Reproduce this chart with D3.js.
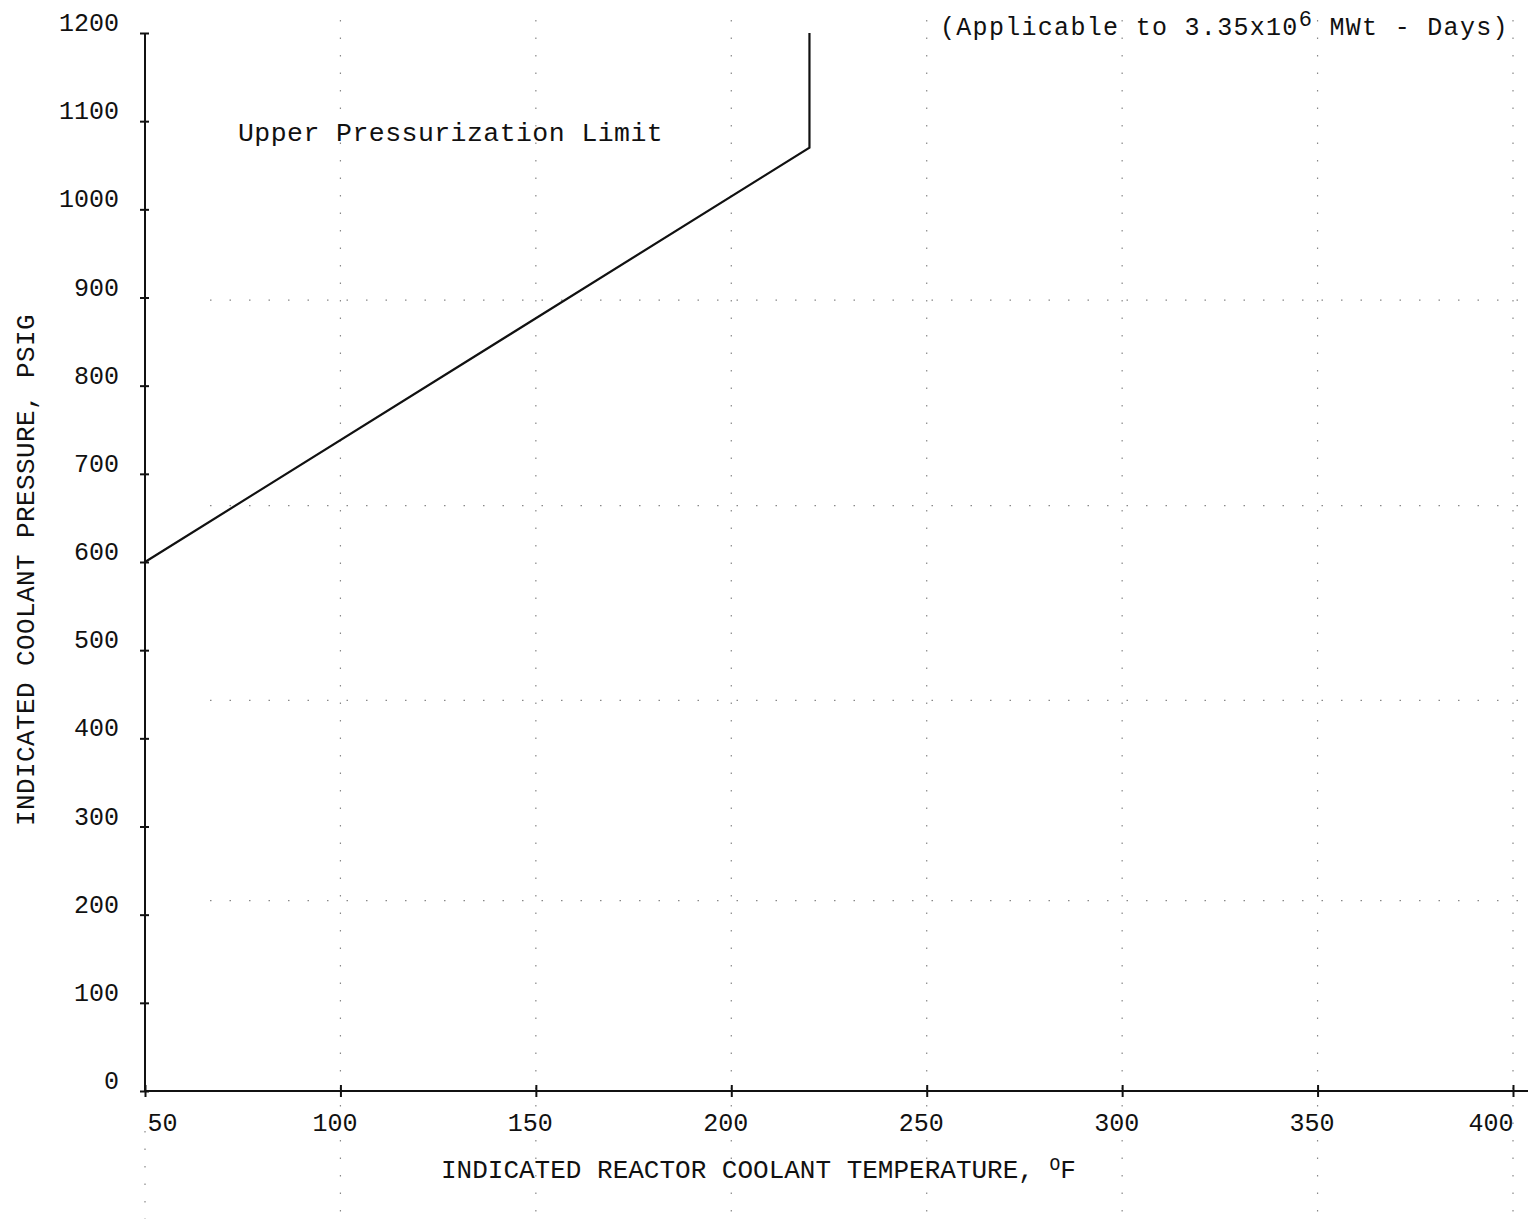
<!DOCTYPE html>
<html>
<head>
<meta charset="utf-8">
<script src="https://cdn.jsdelivr.net/npm/d3@7"></script>
<style>
  body { margin: 0; background: #fff; }
  text { font-family: "Liberation Mono", "DejaVu Sans Mono", monospace; fill: #111; }
</style>
</head>
<body>
<div id="chart"></div>
<script>
var svgwidth = 1531;
var svgheight = 1219;

// data
var temps = [50, 220, 220];
var pressures = [600, 1070, 1200];
var xTicks = [50, 100, 150, 200, 250, 300, 350, 400];
var yTicks = [0, 100, 200, 300, 400, 500, 600, 700, 800, 900, 1000, 1100, 1200];
var faintRows = [897, 664, 443, 216];

var svg = d3.select("#chart")
            .append("svg")
            .attr("width", svgwidth)
            .attr("height", svgheight);

var xscale = d3.scaleLinear().domain([50, 400]).range([145, 1513]);
var yscale = d3.scaleLinear().domain([0, 1200]).range([1091, 33]);

// faint dotted graph paper lines
svg.append("g")
    .selectAll("line")
    .data(xTicks)
    .join("line")
    .attr("x1", d => xscale(d)).attr("x2", d => xscale(d))
    .attr("y1", d => d == 50 ? yscale(0) + 40 : 20).attr("y2", svgheight)
    .attr("stroke", "#888")
    .attr("stroke-width", 1.2)
    .attr("stroke-dasharray", "1.5,16");

svg.append("g")
    .selectAll("line")
    .data(faintRows)
    .join("line")
    .attr("x1", xscale(50) + 65).attr("x2", svgwidth)
    .attr("y1", d => yscale(d)).attr("y2", d => yscale(d))
    .attr("stroke", "#888")
    .attr("stroke-width", 1.2)
    .attr("stroke-dasharray", "1.5,18");

// y axis
var yaxis = d3.axisLeft(yscale).tickValues(yTicks).tickSize(4).tickFormat(d3.format("d"));
var gy = svg.append("g")
    .attr("transform", "translate(" + xscale(50) + ",0)")
    .call(yaxis);
gy.select(".domain").remove();
gy.append("line")
    .attr("x1", 0).attr("x2", 0)
    .attr("y1", yscale(1200)).attr("y2", yscale(0))
    .attr("stroke", "#111").attr("stroke-width", 2);
gy.selectAll(".tick line").attr("x2", 4).attr("x1", -5).attr("stroke", "#111").attr("stroke-width", 2);
gy.selectAll(".tick text")
    .attr("x", -26)
    .attr("dy", "-0.1em")
    .style("font-size", "25px")
    .style("font-family", "Liberation Mono");

// x axis
var xaxis = d3.axisBottom(xscale).tickValues(xTicks).tickSize(4).tickFormat(d3.format("d"));
var gx = svg.append("g")
    .attr("transform", "translate(0," + yscale(0) + ")")
    .call(xaxis);
gx.select(".domain").remove();
gx.append("line")
    .attr("x1", xscale(50)).attr("x2", 1528)
    .attr("y1", 0).attr("y2", 0)
    .attr("stroke", "#111").attr("stroke-width", 2);
gx.selectAll(".tick line").attr("y1", -6).attr("y2", 6).attr("stroke", "#111").attr("stroke-width", 2);
gx.selectAll(".tick text")
    .attr("y", 22)
    .attr("dy", "0.71em")
    .style("font-size", "25px")
    .style("font-family", "Liberation Mono")
    .attr("text-anchor", d => d == 50 ? "start" : (d == 400 ? "end" : "middle"))
    .attr("dx", d => d == 50 ? 2 : (d == 400 ? 0 : -6));

// limit curve
var line = d3.line()
    .x(d => xscale(d[0]))
    .y(d => yscale(d[1]));

svg.append("path")
    .datum(temps.map((t, i) => [t, pressures[i]]))
    .attr("d", line)
    .attr("fill", "none")
    .attr("stroke", "#111")
    .attr("stroke-width", 2.2);

// labels
svg.append("text")
    .attr("x", 238).attr("y", 141)
    .style("font-size", "26.5px")
    .style("letter-spacing", "0.45px")
    .text("Upper Pressurization Limit");

var t = svg.append("text")
    .attr("x", 940).attr("y", 35)
    .style("font-size", "25px")
    .style("letter-spacing", "1.3px");
t.append("tspan").text("(Applicable to 3.35x10");
t.append("tspan").attr("dy", -9).style("font-size", "22px").text("6");
t.append("tspan").attr("dy", 9).text(" MWt - Days)");

svg.append("text")
    .attr("transform", "translate(34,570) rotate(-90)")
    .attr("text-anchor", "middle")
    .style("font-size", "26px")
    .style("letter-spacing", "0.4px")
    .text("INDICATED COOLANT PRESSURE, PSIG");

var xt = svg.append("text")
    .attr("x", 441).attr("y", 1178)
    .style("font-size", "26px");
xt.append("tspan").text("INDICATED REACTOR COOLANT TEMPERATURE, ");
xt.append("tspan").attr("dy", -8).style("font-size", "18px").text("O");
xt.append("tspan").attr("dy", 8).text("F");
</script>
</body>
</html>
